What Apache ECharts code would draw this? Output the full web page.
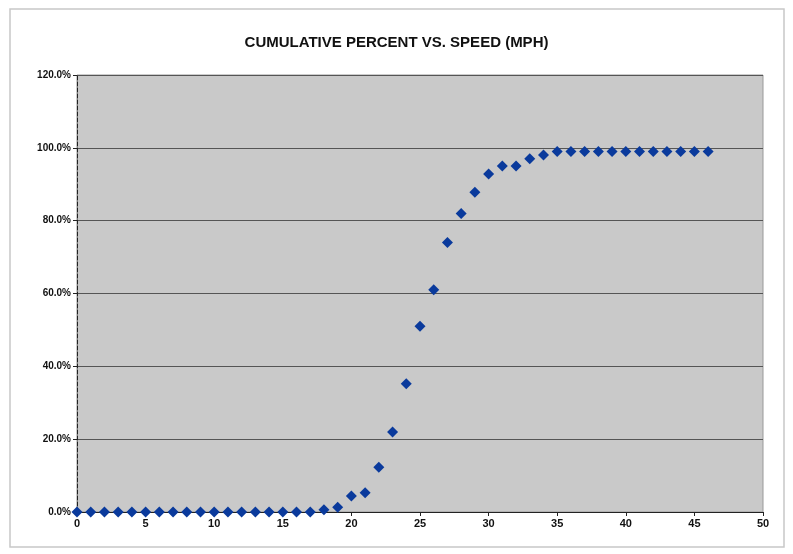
<!DOCTYPE html>
<html>
<head>
<meta charset="utf-8">
<script src="https://cdn.jsdelivr.net/npm/echarts@6/dist/echarts.min.js"></script>
<style>
  html, body { margin: 0; padding: 0; background: #fff; }
  #chart { width: 793px; height: 554px; }
</style>
</head>
<body>
<div id="chart"></div>
<script>
// speed (mph) and cumulative percent
const speeds = [0, 1, 2, 3, 4, 5, 6, 7, 8, 9, 10, 11, 12, 13, 14, 15, 16, 17, 18, 19,
    20, 21, 22, 23, 24, 25, 26, 27, 28, 29, 30, 31, 32, 33, 34, 35, 36, 37, 38, 39,
    40, 41, 42, 43, 44, 45, 46];
const cumPercent = [0, 0, 0, 0, 0, 0, 0, 0, 0, 0, 0, 0, 0, 0, 0, 0, 0, 0, 0.6, 1.3,
    4.4, 5.3, 12.3, 22.0, 35.2, 51.0, 61.0, 74.0, 82.0, 87.8, 92.8, 95.0, 95.0, 97.0, 98.0, 99.0, 99.0, 99.0, 99.0, 99.0,
    99.0, 99.0, 99.0, 99.0, 99.0, 99.0, 99.0];

const chart = echarts.init(document.getElementById('chart'));
chart.setOption({
    backgroundColor: '#ffffff',
    // faint frame of the scanned page
    graphic: [{
        type: 'rect',
        shape: { x: 10, y: 9, width: 774, height: 538 },
        style: { fill: 'none', stroke: '#c8c8c8', lineWidth: 1.5 }
    }],
    title: {
        text: 'CUMULATIVE PERCENT VS. SPEED (MPH)',
        left: 'center',
        top: 30,
        textStyle: {
            fontFamily: 'Liberation Sans Narrow, Liberation Sans',
            fontSize: 15,
            fontWeight: 'bold',
            color: '#111'
        }
    },
    grid: {
        left: 77,
        right: 30,
        top: 75,
        bottom: 42,
        show: true,
        backgroundColor: '#c9c9c9',
        borderColor: '#999',
        borderWidth: 1
    },
    xAxis: {
        type: 'value',
        min: 0,
        max: 50,
        interval: 5,
        axisLine: { show: true, onZero: false, lineStyle: { color: '#222' } },
        axisTick: { show: true, length: 4, lineStyle: { color: '#222' } },
        splitLine: { show: false },
        axisLabel: {
            fontFamily: 'Liberation Sans',
            fontSize: 11,
            fontWeight: 'bold',
            color: '#111',
            margin: 6
        }
    },
    yAxis: {
        type: 'value',
        min: 0,
        max: 120,
        interval: 20,
        axisLine: { show: true, lineStyle: { color: '#222', type: 'dashed' } },
        axisTick: { show: true, length: 4, lineStyle: { color: '#222' } },
        splitLine: { show: true, lineStyle: { color: '#555', width: 1 } },
        axisLabel: {
            fontFamily: 'Liberation Sans',
            fontSize: 10,
            fontWeight: 'bold',
            color: '#111',
            margin: 6,
            formatter: function (v) { return v.toFixed(1) + '%'; }
        }
    },
    series: [
        {
            type: 'scatter',
            symbol: 'diamond',
            symbolSize: 11,
            itemStyle: { color: '#0a3a9c', opacity: 1 },
            data: speeds.map(function (s, i) { return [s, cumPercent[i]]; })
        }
    ]
});
</script>
</body>
</html>
